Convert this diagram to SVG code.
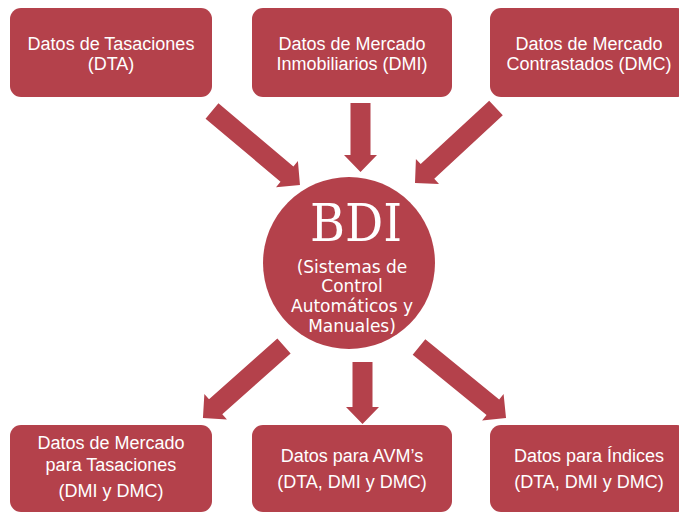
<svg xmlns="http://www.w3.org/2000/svg" width="679" height="513" viewBox="0 0 679 513">
<style>
.box{fill:#b4414b;}
.t{font-family:"Liberation Sans",Arial,sans-serif;font-size:18px;fill:#ffffff;text-anchor:middle;}
.arr{fill:#b4414b;}
.big{font-family:"DejaVu Serif Condensed","DejaVu Serif",serif;font-size:53px;fill:#ffffff;text-anchor:middle;}
.sub{font-family:"DejaVu Sans",sans-serif;font-size:17px;fill:#ffffff;text-anchor:middle;}
</style>
<rect width="679" height="513" fill="#ffffff"/>
<g id="connectors">
<polygon class="arr" transform="translate(212,111) rotate(40.1)" points="0,-10 98,-10 98,-17 115,0 98,17 98,10 0,10"/>
<polygon class="arr" transform="translate(360.5,103) rotate(90)" points="0,-10 52,-10 52,-16.5 69,0 52,16.5 52,10 0,10"/>
<polygon class="arr" transform="translate(496,108) rotate(137.2)" points="0,-10 93.4,-10 93.4,-17 110.4,0 93.4,17 93.4,10 0,10"/>
<polygon class="arr" transform="translate(284,346) rotate(138.4)" points="0,-10 91.4,-10 91.4,-17 108.4,0 91.4,17 91.4,10 0,10"/>
<polygon class="arr" transform="translate(362.5,362) rotate(90)" points="0,-10 45,-10 45,-16.5 62,0 45,16.5 45,10 0,10"/>
<polygon class="arr" transform="translate(419,347) rotate(39.2)" points="0,-10 95.3,-10 95.3,-17 112.3,0 95.3,17 95.3,10 0,10"/>
</g>
<g id="dta">
<rect class="box" x="10" y="8" width="202" height="89" rx="11"/>
<text class="t" x="111" y="50">Datos de Tasaciones</text>
<text class="t" x="111" y="70">(DTA)</text>
</g>
<g id="dmi">
<rect class="box" x="252" y="8" width="200" height="89" rx="11"/>
<text class="t" x="352" y="50">Datos de Mercado</text>
<text class="t" x="352" y="70">Inmobiliarios  (DMI)</text>
</g>
<g id="dmc">
<rect class="box" x="490" y="8" width="198" height="89" rx="11"/>
<text class="t" x="589" y="50">Datos de Mercado</text>
<text class="t" x="589" y="70">Contrastados (DMC)</text>
</g>
<g id="bdi">
<circle class="box" cx="349" cy="263" r="86"/>
<text class="big" x="356" y="241">BDI</text>
<text class="sub" x="352" y="273">(Sistemas de</text>
<text class="sub" x="352" y="292">Control</text>
<text class="sub" x="352" y="312">Automáticos y</text>
<text class="sub" x="352" y="332">Manuales)</text>
</g>
<g id="tasaciones">
<rect class="box" x="10" y="425" width="202" height="87" rx="11"/>
<text class="t" x="111" y="449">Datos de Mercado</text>
<text class="t" x="111" y="471">para Tasaciones</text>
<text class="t" x="111" y="497">(DMI y DMC)</text>
</g>
<g id="avm">
<rect class="box" x="252" y="425" width="200" height="87" rx="11"/>
<text class="t" x="352" y="462">Datos para AVM’s</text>
<text class="t" x="352" y="488">(DTA, DMI y DMC)</text>
</g>
<g id="indices">
<rect class="box" x="490" y="425" width="198" height="87" rx="11"/>
<text class="t" x="589" y="462">Datos para Índices</text>
<text class="t" x="589" y="488">(DTA, DMI y DMC)</text>
</g>
</svg>
